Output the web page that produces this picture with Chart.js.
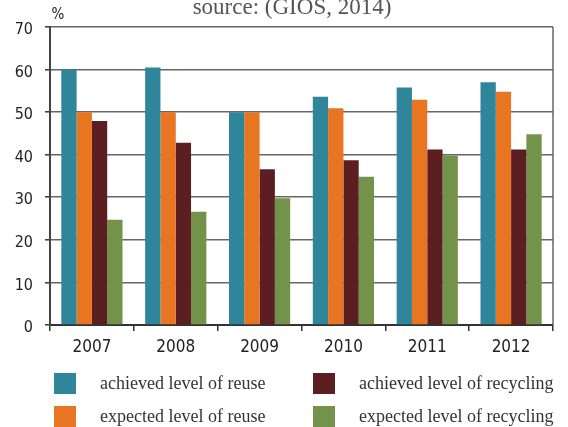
<!DOCTYPE html>
<html>
<head>
<meta charset="utf-8">
<script src="https://cdn.jsdelivr.net/npm/chart.js@4"></script>
<style>
  html, body { margin: 0; padding: 0; background: #fff; }
  #wrap { width: 568px; height: 427px; position: relative; }
</style>
</head>
<body>
<div id="wrap"><canvas id="chart"></canvas></div>
<script>
const years = ["2007", "2008", "2009", "2010", "2011", "2012"];
const achievedReuse = [60, 60.5, 50, 53.6, 55.8, 57];
const expectedReuse = [50, 50, 50, 50.9, 52.9, 54.8];
const achievedRecycling = [47.9, 42.8, 36.6, 38.7, 41.2, 41.2];
const expectedRecycling = [24.7, 26.6, 29.8, 34.8, 39.8, 44.8];
const seriesNames = [
  "achieved level of reuse",
  "expected level of reuse",
  "achieved level of recycling",
  "expected level of recycling",
];
const seriesColors = ["#2f8599", "#e87522", "#5b1f22", "#74934a"];

const tickFont = "'Liberation Sans Narrow', 'DejaVu Sans Condensed', sans-serif";
const serifFont = "'Liberation Serif', 'DejaVu Serif', serif";

// title, % label, right frame line and the two-column legend
const extrasPlugin = {
  id: "extras",
  afterDraw(chart) {
    const ctx = chart.ctx;
    const area = chart.chartArea;
    ctx.save();

    // right frame
    ctx.strokeStyle = "#666";
    ctx.lineWidth = 1.5;
    ctx.beginPath();
    ctx.moveTo(area.right, area.top);
    ctx.lineTo(area.right, area.bottom);
    ctx.stroke();

    // clipped source line at the very top
    ctx.fillStyle = "#555";
    ctx.font = "23px " + serifFont;
    ctx.textAlign = "center";
    ctx.textBaseline = "alphabetic";
    ctx.fillText("source: (GIOS, 2014)", 292, 14);

    ctx.fillStyle = "#222";
    ctx.font = "15px " + tickFont;
    ctx.fillText("%", 58, 19);

    // legend: column 1 = reuse, column 2 = recycling
    const cols = [54, 313];
    const rows = [373, 406];
    const order = [[0, 0, 0], [1, 0, 1], [2, 1, 0], [3, 1, 1]];
    ctx.font = "18px " + serifFont;
    ctx.textAlign = "left";
    ctx.textBaseline = "middle";
    order.forEach(([i, c, r]) => {
      const x = cols[c];
      const y = rows[r];
      ctx.fillStyle = seriesColors[i];
      ctx.fillRect(x, y, 22, 21);
      ctx.fillStyle = "#333";
      ctx.fillText(seriesNames[i], x + 46, y + 11);
    });
    ctx.restore();
  },
};

const datasets = [achievedReuse, expectedReuse, achievedRecycling, expectedRecycling].map((values, i) => ({
  label: seriesNames[i],
  data: values,
  backgroundColor: seriesColors[i],
  borderWidth: 0,
  categoryPercentage: 0.73,
  barPercentage: 1.0,
}));

new Chart(document.getElementById("chart"), {
  type: "bar",
  data: { labels: years, datasets },
  options: {
    responsive: true,
    maintainAspectRatio: false,
    animation: false,
    layout: { padding: { top: 27, right: 15, left: 0, bottom: 0 } },
    plugins: {
      legend: { display: false },
      title: { display: false },
      tooltip: { enabled: false },
    },
    scales: {
      x: {
        offset: true,
        afterFit: (s) => { s.height = 102; },
        grid: { drawOnChartArea: false, drawTicks: true, tickLength: 6, color: "#333", lineWidth: 1.5 },
        border: { display: true, color: "#333", width: 2 },
        ticks: { color: "#222", padding: 6, font: { family: tickFont, size: 17 } },
      },
      y: {
        min: 0,
        max: 70,
        afterFit: (s) => { s.width = 50; },
        grid: { color: "#666", lineWidth: 1.6, drawTicks: true, tickLength: 5, tickColor: "#444" },
        border: { display: true, color: "#444", width: 2 },
        ticks: {
          stepSize: 10,
          color: "#222",
          padding: 12,
          labelOffset: 3,
          font: { family: tickFont, size: 16 },
        },
      },
    },
  },
  plugins: [extrasPlugin],
});
</script>
</body>
</html>
